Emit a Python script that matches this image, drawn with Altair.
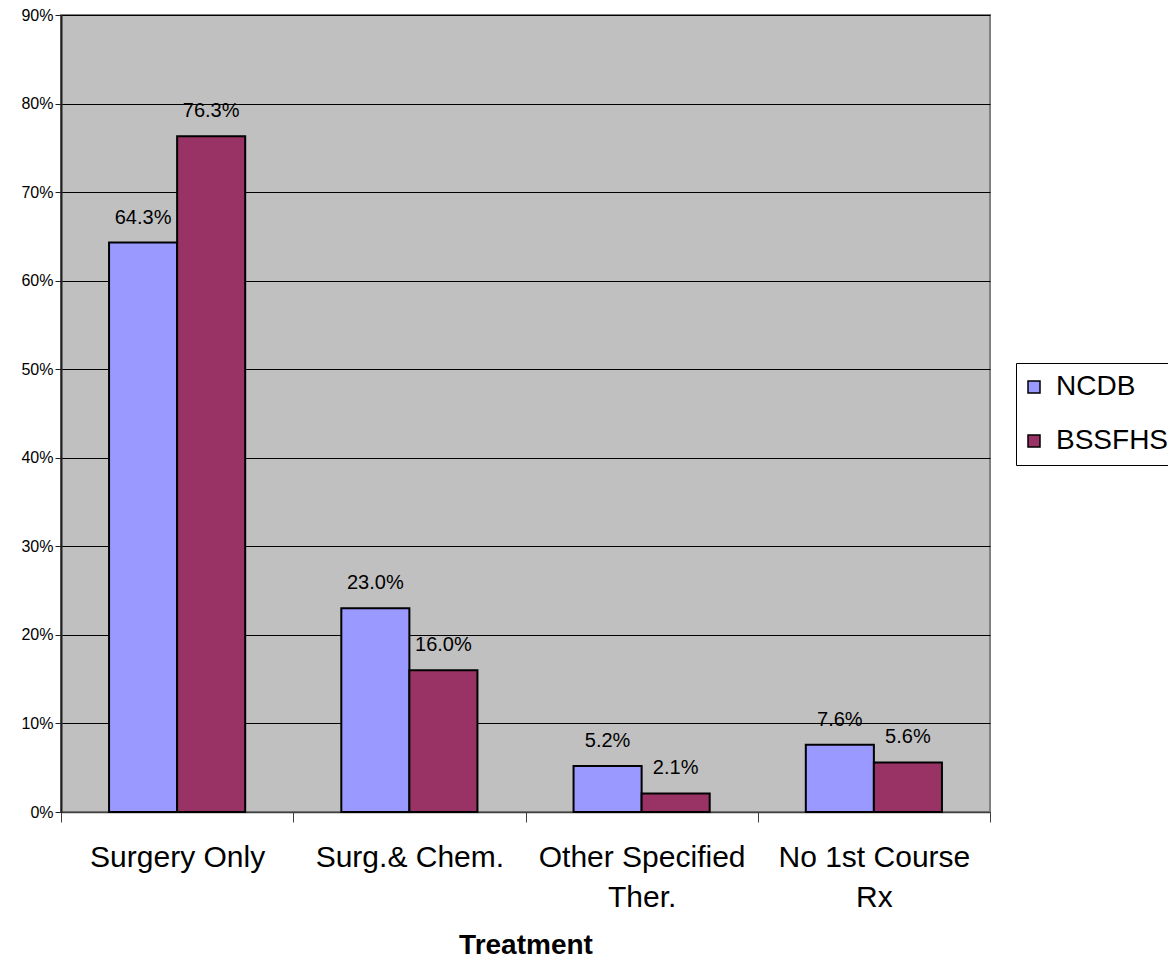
import altair as alt
import pandas as pd

categories = ["Surgery Only", "Surg.& Chem.", "Other Specified Ther.", "No 1st Course Rx"]
series = ["NCDB", "BSSFHS"]
ncdb = [64.3, 23.0, 5.2, 7.6]
bssfhs = [76.3, 16.0, 2.1, 5.6]
y_ticks = [0, 10, 20, 30, 40, 50, 60, 70, 80, 90]
colors = ["#9999FF", "#993366"]

rows = []
for i, c in enumerate(categories):
    rows.append({"Treatment": c, "Series": series[0], "value": ncdb[i]})
    rows.append({"Treatment": c, "Series": series[1], "value": bssfhs[i]})
df = pd.DataFrame(rows)

label_expr = (
    "datum.value == 'Other Specified Ther.' ? ['Other Specified', 'Ther.'] : "
    "datum.value == 'No 1st Course Rx' ? ['No 1st Course', 'Rx'] : datum.value"
)

x = alt.X(
    "Treatment:N",
    sort=categories,
    scale=alt.Scale(paddingInner=0, paddingOuter=0),
    axis=alt.Axis(
        title="Treatment",
        labelAngle=0,
        labelFontSize=30,
        labelLineHeight=40,
        labelPadding=20,
        labelLimit=0,
        labelColor="black",
        tickBand="extent",
        tickSize=10,
        tickColor="#404040",
        domainColor="#404040",
        domainWidth=1.5,
        titleFontSize=28,
        titleFontWeight="bold",
        titlePadding=19,
        titleColor="black",
        labelExpr=label_expr,
    ),
)
xoff = alt.XOffset(
    "Series:N",
    sort=series,
    scale=alt.Scale(paddingOuter=0.706, paddingInner=0),
)
y = alt.Y(
    "value:Q",
    scale=alt.Scale(domain=[0, 90], nice=False),
    axis=alt.Axis(
        title=None,
        values=y_ticks,
        labelExpr="datum.value + '%'",
        labelFontSize=16,
        labelPadding=2,
        labelColor="black",
        tickSize=6,
        tickColor="#202020",
        domainColor="#202020",
        domainWidth=2,
        gridColor="black",
        gridWidth=1,
        gridOpacity=1,
    ),
)
color = alt.Color(
    "Series:N",
    sort=series,
    scale=alt.Scale(domain=series, range=colors),
    legend=alt.Legend(
        title=None,
        orient="none",
        legendX=955,
        legendY=348,
        strokeColor="black",
        fillColor="white",
        padding=10,
        symbolType="square",
        symbolSize=144,
        symbolOffset=-6,
        symbolStrokeColor="black",
        symbolStrokeWidth=1.5,
        symbolOpacity=1,
        labelFontSize=28,
        labelColor="black",
        labelOffset=8,
        rowPadding=26,
        labelLimit=0,
    ),
)

bars = alt.Chart(df).mark_bar(stroke="black", strokeWidth=2, opacity=1).encode(
    x=x, xOffset=xoff, y=y, color=color
)
labels = (
    alt.Chart(df)
    .transform_calculate(label="format(datum.value, '.1f') + '%'")
    .mark_text(fontSize=20, baseline="alphabetic", dy=-19, color="black")
    .encode(x=x, xOffset=xoff, y=y, text="label:N")
)

chart = (
    alt.layer(bars, labels)
    .properties(
        width=929,
        height=797,
        padding={"left": 53, "top": 7, "right": 178, "bottom": 147},
        autosize=alt.AutoSizeParams(type="none"),
        background="white",
    )
    .configure(font="Liberation Sans")
    .configure_view(fill="#C0C0C0", stroke="#808080", strokeWidth=2)
)

chart.save("out.html", embed_options={"renderer": "svg", "actions": False})
